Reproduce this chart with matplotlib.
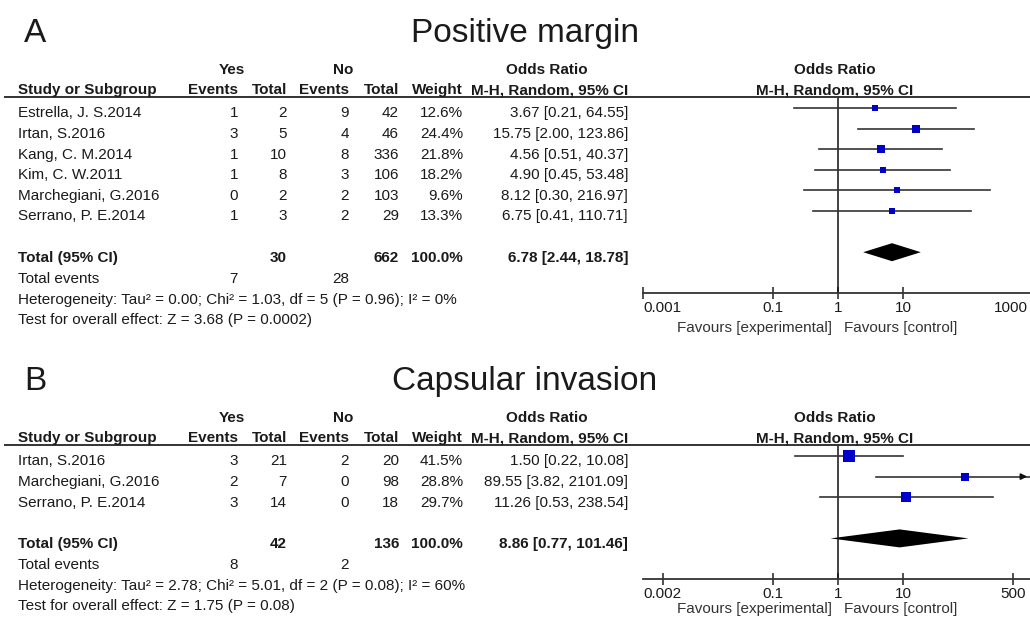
import matplotlib
matplotlib.use("Agg")
import matplotlib.pyplot as plt
from matplotlib.lines import Line2D
from matplotlib.patches import Polygon
from matplotlib.ticker import NullLocator
from matplotlib.transforms import offset_copy

plt.rcParams['font.family'] = ['Liberation Sans', 'DejaVu Sans']

# Panel A: positive margin
a_studies = ["Estrella, J. S.2014", "Irtan, S.2016", "Kang, C. M.2014",
             "Kim, C. W.2011", "Marchegiani, G.2016", "Serrano, P. E.2014"]
a_yes_events = [1, 3, 1, 1, 0, 1]
a_yes_total = [2, 5, 10, 8, 2, 3]
a_no_events = [9, 4, 8, 3, 2, 2]
a_no_total = [42, 46, 336, 106, 103, 29]
a_weight = [12.6, 24.4, 21.8, 18.2, 9.6, 13.3]
a_or = [3.67, 15.75, 4.56, 4.90, 8.12, 6.75]
a_lo = [0.21, 2.00, 0.51, 0.45, 0.30, 0.41]
a_hi = [64.55, 123.86, 40.37, 53.48, 216.97, 110.71]
a_total = [6.78, 2.44, 18.78]
a_sums = [7, 30, 28, 662]
a_het = "Heterogeneity: Tau² = 0.00; Chi² = 1.03, df = 5 (P = 0.96); I² = 0%"
a_test = "Test for overall effect: Z = 3.68 (P = 0.0002)"
a_ticks = [0.001, 0.1, 1, 10, 1000]
a_ticklabels = ["0.001", "0.1", "1", "10", "1000"]

# Panel B: capsular invasion
b_studies = ["Irtan, S.2016", "Marchegiani, G.2016", "Serrano, P. E.2014"]
b_yes_events = [3, 2, 3]
b_yes_total = [21, 7, 14]
b_no_events = [2, 0, 0]
b_no_total = [20, 98, 18]
b_weight = [41.5, 28.8, 29.7]
b_or = [1.50, 89.55, 11.26]
b_lo = [0.22, 3.82, 0.53]
b_hi = [10.08, 2101.09, 238.54]
b_total = [8.86, 0.77, 101.46]
b_sums = [8, 42, 2, 136]
b_het = "Heterogeneity: Tau² = 2.78; Chi² = 5.01, df = 2 (P = 0.08); I² = 60%"
b_test = "Test for overall effect: Z = 1.75 (P = 0.08)"
b_ticks = [0.002, 0.1, 1, 10, 500]
b_ticklabels = ["0.002", "0.1", "1", "10", "500"]

W, H = 1030, 618
DPI = 100
fig = plt.figure(figsize=(W / DPI, H / DPI), dpi=DPI)
TXT = '#1a1a1a'
SQ = '#0000cc'
PT = DPI / 72.0


def fx(x):
    return x / W


def fy(y):
    return 1 - y / H


def txt(x, y, s, size=11, ha='left', weight='normal', color=TXT):
    # y is the visual middle of capital letters, in pixels from top
    base = y + 0.358 * size * PT
    fig.text(fx(x), fy(base), s, ha=ha, va='baseline', fontsize=size,
             fontweight=weight, color=color)


# right edges of table columns
cols = [238, 287, 349, 399, 463, 628]


def panel(letter, title, line_y, studies, ye, yt, ne, nt, wt, est, lo, hi,
          total, sums, het, test, ticks, ticklabels, tick_ha, tick_dx, clip, fav_dy):
    step = 20.6
    txt(24, line_y - 67, letter, size=24)
    txt(525, line_y - 67, title, size=24, ha='center')

    # headers
    txt(232, line_y - 28, "Yes", ha='center', weight='bold')
    txt(343, line_y - 28, "No", ha='center', weight='bold')
    txt(547, line_y - 28, "Odds Ratio", ha='center', weight='bold')
    txt(835, line_y - 28, "Odds Ratio", ha='center', weight='bold')
    txt(18, line_y - 8, "Study or Subgroup", weight='bold')
    for c, h in zip(cols, ["Events", "Total", "Events", "Total", "Weight",
                           "M-H, Random, 95% CI"]):
        txt(c, line_y - 8, h, ha='right', weight='bold')
    txt(835, line_y - 8, "M-H, Random, 95% CI", ha='center', weight='bold')
    fig.add_artist(Line2D([fx(5), 1.0], [fy(line_y), fy(line_y)],
                          color='#333333', lw=1.4))

    first = line_y + 15
    rows = [first + i * step for i in range(len(studies))]
    for i, y in enumerate(rows):
        vals = [str(ye[i]), str(yt[i]), str(ne[i]), str(nt[i]),
                "%.1f%%" % wt[i], "%.2f [%.2f, %.2f]" % (est[i], lo[i], hi[i])]
        txt(18, y, studies[i])
        for c, v in zip(cols, vals):
            txt(c, y, v, ha='right')

    tot_y = first + (len(studies) + 1) * step
    txt(18, tot_y, "Total (95% CI)", weight='bold')
    txt(cols[1], tot_y, str(sums[1]), ha='right', weight='bold')
    txt(cols[3], tot_y, str(sums[3]), ha='right', weight='bold')
    txt(cols[4], tot_y, "100.0%", ha='right', weight='bold')
    txt(cols[5], tot_y, "%.2f [%.2f, %.2f]" % tuple(total), ha='right', weight='bold')
    txt(18, tot_y + 21, "Total events")
    txt(cols[0], tot_y + 21, str(sums[0]), ha='right')
    txt(cols[2], tot_y + 21, str(sums[2]), ha='right')
    txt(18, tot_y + 42, het)
    txt(18, tot_y + 62, test)

    # forest plot
    axis_y = tot_y + 37
    ax = fig.add_axes([fx(643), fy(axis_y), 390 / W, (axis_y - line_y) / H])
    ax.set_xscale('log')
    ax.set_xlim(0.001, 1000)
    ax.set_ylim(axis_y, line_y)
    ax.patch.set_visible(False)
    for s in ['top', 'left', 'right']:
        ax.spines[s].set_visible(False)
    ax.spines['bottom'].set_color('#333333')
    ax.spines['bottom'].set_linewidth(1.3)
    ax.set_yticks([])
    ax.set_xticks(ticks)
    ax.xaxis.set_minor_locator(NullLocator())
    ax.tick_params(axis='x', direction='inout', length=8, width=1.2,
                   color='#333333', labelbottom=False)
    ax.axvline(1, color='#111111', lw=1.1)

    for i, y in enumerate(rows):
        yy = y - 4
        top = min(hi[i], clip)
        ax.plot([lo[i], top], [yy, yy], color='#333333', lw=1.2, clip_on=False)
        if hi[i] > clip:
            ax.annotate('', xy=(top, yy), xytext=(top * 0.7, yy),
                        arrowprops=dict(arrowstyle='-|>', color='#111111',
                                        lw=1.2, mutation_scale=9),
                        annotation_clip=False)
        size_px = 3.2 + 0.2 * wt[i]
        ax.plot(est[i], yy, marker='s', color=SQ, markersize=size_px / PT,
                markeredgewidth=0, clip_on=False)

    dy = tot_y - 4
    ax.add_patch(Polygon([(total[1], dy), (total[0], dy - 9),
                          (total[2], dy), (total[0], dy + 9)],
                         closed=True, color='black', lw=0, clip_on=False))

    for t, lab, ha, dx in zip(ticks, ticklabels, tick_ha, tick_dx):
        tr = offset_copy(ax.transData, fig=fig, x=dx, y=0, units='dots')
        ax.text(t, axis_y + 15 + 4, lab, ha=ha, va='baseline', fontsize=11,
                color=TXT, clip_on=False, transform=tr)
    ax.text(0.8, axis_y + fav_dy + 4, "Favours [experimental]", ha='right',
            va='baseline', fontsize=11, color='#333333')
    ax.text(1.25, axis_y + fav_dy + 4, "Favours [control]", ha='left',
            va='baseline', fontsize=11, color='#333333')


panel("A", "Positive margin", 97, a_studies, a_yes_events, a_yes_total,
      a_no_events, a_no_total, a_weight, a_or, a_lo, a_hi, a_total, a_sums,
      a_het, a_test, a_ticks, a_ticklabels,
      ['left', 'center', 'center', 'center', 'right'], [0, 0, 0, 0, -5],
      1e9, 35)
panel("B", "Capsular invasion", 445, b_studies, b_yes_events, b_yes_total,
      b_no_events, b_no_total, b_weight, b_or, b_lo, b_hi, b_total, b_sums,
      b_het, b_test, b_ticks, b_ticklabels,
      ['center'] * 5, [0] * 5, 900, 30)

fig.savefig("out.png", dpi=DPI)
